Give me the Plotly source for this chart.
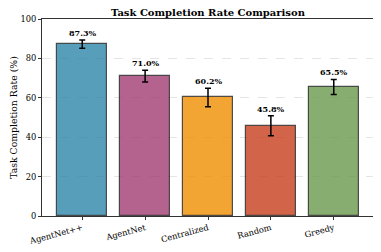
import plotly.graph_objects as go

categories = ["AgentNet++", "AgentNet", "Centralized", "Random", "Greedy"]
rates = [87.3, 71.0, 60.2, 45.8, 65.5]
errors = [2.1, 3.0, 4.7, 5.1, 3.8]
colors = ["#2E86AB", "#A23B72", "#F18F01", "#C73E1D", "#6A994E"]
y_ticks = [0, 20, 40, 60, 80, 100]

FONT = "DejaVu Serif"
xs = list(range(len(categories)))

fig = go.Figure()
fig.add_trace(go.Bar(
    x=xs, y=rates, width=0.8,
    marker=dict(color=colors, opacity=0.8,
                line=dict(color="rgba(0,0,0,0.85)", width=1.2)),
    error_y=dict(type="data", array=errors, visible=True,
                 color="black", thickness=1.5, width=3),
    showlegend=False,
))

for x, v, e in zip(xs, rates, errors):
    fig.add_annotation(x=x, y=v + e, text=f"<b>{v:.1f}%</b>", showarrow=False,
                       yanchor="bottom", yshift=0,
                       font=dict(family=FONT, size=8, color="black"))

# page body has an 8px default margin, so the figure is sized to fit the window
fig.update_layout(
    width=373, height=244,
    margin=dict(l=34, r=7, t=11, b=36, autoexpand=False),
    paper_bgcolor="white", plot_bgcolor="white",
    font=dict(family=FONT, size=8.3, color="black"),
    title=dict(text="<b>Task Completion Rate Comparison</b>", x=0.536, xanchor="center",
               y=0.995, yanchor="top", font=dict(family=FONT, size=10, color="black")),
    bargap=0,
)
fig.update_xaxes(
    range=[-0.64, 4.64], tickmode="array", tickvals=xs, ticktext=categories,
    tickangle=-15, ticks="outside", ticklen=3, tickcolor="#333",
    showline=True, linecolor="#333", linewidth=1, mirror=True, automargin=False,
    showgrid=False, zeroline=False, tickfont=dict(size=8.3),
)
fig.update_yaxes(
    range=[0, 100], tickmode="array", tickvals=y_ticks,
    ticks="outside", ticklen=3, tickcolor="#333",
    showline=True, linecolor="#333", linewidth=1, mirror=True, automargin=False,
    showgrid=True, gridcolor="rgba(180,180,180,0.35)", griddash="dash", gridwidth=0.6,
    zeroline=False, tickfont=dict(size=8.3),
    title=dict(text="Task Completion Rate (%)", font=dict(size=9.3), standoff=1),
)

fig.write_html("out.html")
